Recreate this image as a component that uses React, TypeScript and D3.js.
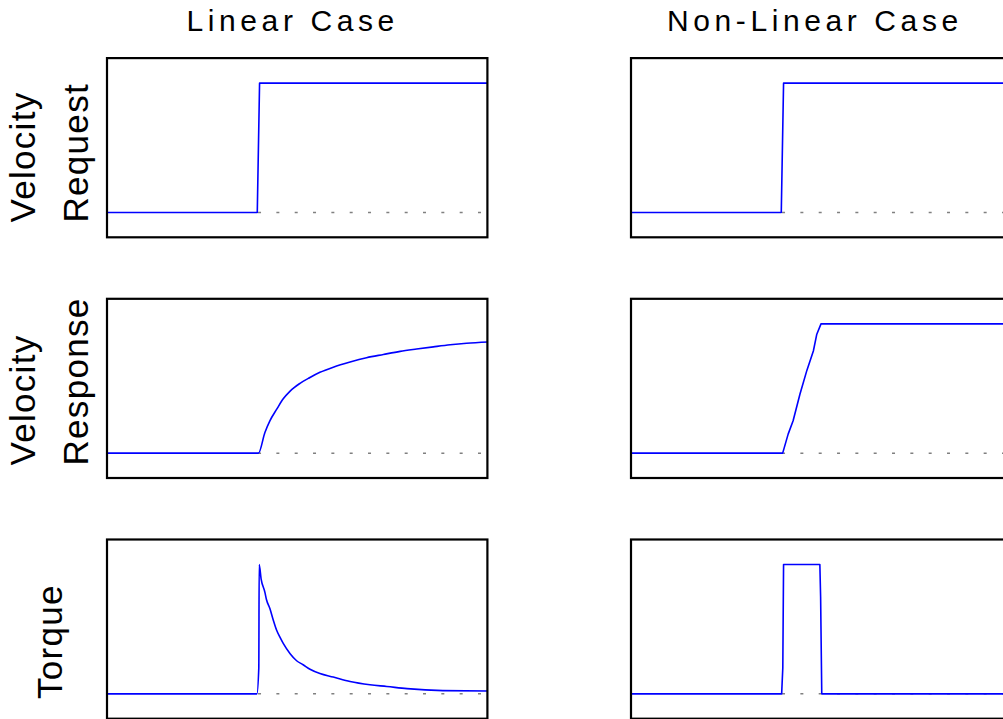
import React from "react";
import * as d3 from "d3";

// ---- data (time in s, values normalised) ----
const columnTitles = ["Linear Case", "Non-Linear Case"];
const rowLabels = [["Velocity", "Request"], ["Velocity", "Response"], ["Torque"]];

const requestT = [0, 3.96, 4.02, 10];
const requestV = [0, 0, 1, 1];

const linRespT = [0, 3.99, 4.16, 4.29, 4.47, 4.64, 4.82, 5.08, 5.34, 5.6, 5.95, 6.39, 6.82, 7.26, 7.7, 8.13, 8.57, 9.01, 9.44, 10];
const linRespV = [0, 0, 0.16, 0.25, 0.34, 0.42, 0.48, 0.54, 0.585, 0.625, 0.665, 0.705, 0.738, 0.763, 0.787, 0.805, 0.822, 0.838, 0.85, 0.86];

const linTorqueT = [0, 3.95, 4.0, 4.01, 4.06, 4.16, 4.2, 4.29, 4.38, 4.47, 4.55, 4.64, 4.82, 4.99, 5.16, 5.34, 5.6, 5.95, 6.39, 6.91, 7.35, 7.88, 8.82, 10];
const linTorqueV = [0, 0, 0.2, 1.0, 0.89, 0.785, 0.73, 0.66, 0.57, 0.49, 0.44, 0.39, 0.31, 0.256, 0.225, 0.19, 0.157, 0.13, 0.095, 0.07, 0.057, 0.04, 0.025, 0.022];

const nlRespT = [0, 3.997, 4.14, 4.27, 4.45, 4.63, 4.8, 4.89, 5.0, 10];
const nlRespV = [0, 0, 0.147, 0.25, 0.457, 0.64, 0.79, 0.92, 1.0, 1.0];

const nlTorqueT = [0, 3.97, 4.0, 4.02, 4.97, 4.99, 5.02, 10];
const nlTorqueV = [0, 0, 0.2, 1, 1, 0.75, 0, 0];

const refStartT = 3.98;
const timeDomain = [0, 10];
const valueDomain = [-0.2, 1.2];

const zip = (t: number[], v: number[]) => t.map((tt, i) => [tt, v[i]] as [number, number]);

const series = [
  [zip(requestT, requestV), zip(requestT, requestV)],
  [zip(linRespT, linRespV), zip(nlRespT, nlRespV)],
  [zip(linTorqueT, linTorqueV), zip(nlTorqueT, nlTorqueV)],
];
const smooth = [
  [false, false],
  [true, false],
  [true, false],
];

// ---- layout ----
const W = 1003;
const H = 719;
const colX = [106, 630];
const plotW = 382;
const rowTop = [57.3, 298, 538.7];
const plotH = 181;
const titleX = [186.5, 667];
const titleY = 31;
const labelBaseX = [[35, 88.3], [35, 88], [61.7]];
const labelAnchorY = [222.5, 465.5, 699];

export default function App() {
  return (
    <div style={{ position: "absolute", left: 0, top: 0 }}>
      <svg width={W} height={H} style={{ display: "block", background: "#fff" }}>
        <rect x={0} y={0} width={W} height={H} fill="#fff" />
        {columnTitles.map((t, c) => (
          <text
            key={t}
            x={titleX[c]}
            y={titleY}
            fontFamily="'Liberation Sans', Arial, sans-serif"
            fontSize={30}
            letterSpacing={4.6}
            fill="#000"
          >
            {t}
          </text>
        ))}
        {rowLabels.map((lines, r) =>
          lines.map((ln, i) => (
            <text
              key={r + "-" + i}
              transform={`translate(${labelBaseX[r][i]},${labelAnchorY[r]}) rotate(-90)`}
              fontFamily="'Liberation Sans', Arial, sans-serif"
              fontSize={35}
              letterSpacing={1.3}
              fill="#000"
            >
              {ln}
            </text>
          ))
        )}
        {series.map((row, r) =>
          row.map((data, c) => {
            const x = d3.scaleLinear().domain(timeDomain).range([colX[c], colX[c] + plotW]);
            const y = d3.scaleLinear().domain(valueDomain).range([rowTop[r] + plotH, rowTop[r]]);
            const line = d3
              .line<[number, number]>()
              .x((d) => x(d[0]))
              .y((d) => y(d[1]))
              .curve(smooth[r][c] ? d3.curveMonotoneX : d3.curveLinear);
            return (
              <g key={r + "-" + c}>
                <line
                  x1={x(refStartT)}
                  x2={x(timeDomain[1])}
                  y1={y(0)}
                  y2={y(0)}
                  stroke="#808080"
                  strokeWidth={1.5}
                  strokeDasharray="3 15.33"
                />
                <path d={line(data) || ""} fill="none" stroke="#0000ff" strokeWidth={1.6} strokeLinejoin="round" />
                <rect
                  x={colX[c] + 1}
                  y={rowTop[r] + 0.8}
                  width={plotW - 1.6}
                  height={plotH - 1.8}
                  fill="none"
                  stroke="#000"
                  strokeWidth={2.2}
                />
              </g>
            );
          })
        )}
      </svg>
    </div>
  );
}
